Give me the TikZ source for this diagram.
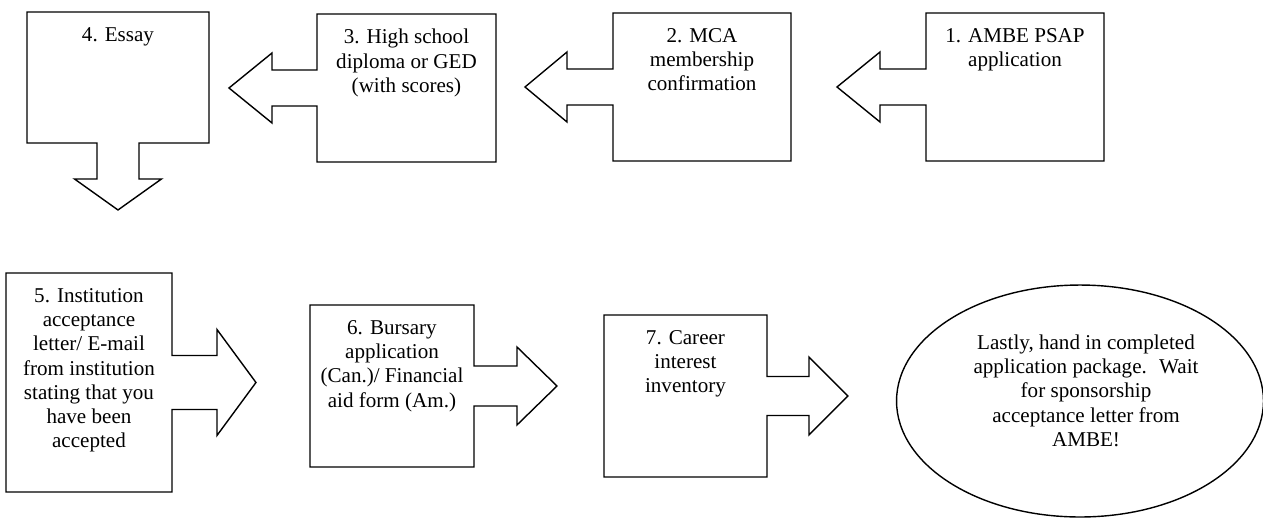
\documentclass[tikz,border=0pt]{standalone}
\usepackage{fontspec}
\setmainfont{Liberation Serif}
\newfontfamily\stepfont{Liberation Serif}
\usetikzlibrary{shapes.geometric,positioning,calc}
\tikzset{
  stepbox/.style={rectangle, inner sep=0pt, outer sep=0pt, anchor=north west},
  steptext/.style={align=center, inner sep=0pt, font=\stepfont\fontsize{12pt}{13.8pt}\selectfont},
  blockline/.style={draw=black, line width=0.8pt, fill=white, line join=miter},
}
% #1 node, #2 shaft half width, #3 shaft length, #4 head half width, #5 head length
\newcommand{\leftblock}[5]{%
  \draw[blockline] (#1.north west) -- (#1.north east) -- (#1.south east) -- (#1.south west)
    -- ($(#1.west)+(0,#2)$) -- ($(#1.west)+(-#3,#2)$) -- ($(#1.west)+(-#3,#4)$)
    -- ($(#1.west)+(-#3-#5,0)$) -- ($(#1.west)+(-#3,-#4)$) -- ($(#1.west)+(-#3,-#2)$)
    -- ($(#1.west)+(0,-#2)$) -- cycle;}
\newcommand{\rightblock}[5]{%
  \draw[blockline] (#1.north west) -- (#1.north east)
    -- ($(#1.east)+(0,-#2)$) -- ($(#1.east)+(#3,-#2)$) -- ($(#1.east)+(#3,-#4)$)
    -- ($(#1.east)+(#3+#5,0)$) -- ($(#1.east)+(#3,#4)$) -- ($(#1.east)+(#3,#2)$)
    -- ($(#1.east)+(0,#2)$) -- (#1.south east) -- (#1.south west) -- cycle;}
\newcommand{\downblock}[5]{%
  \draw[blockline] (#1.north west) -- (#1.north east) -- (#1.south east)
    -- ($(#1.south)+(#2,0)$) -- ($(#1.south)+(#2,#3)$) -- ($(#1.south)+(#4,#3)$)
    -- ($(#1.south)+(0,#3+#5)$) -- ($(#1.south)+(-#4,#3)$) -- ($(#1.south)+(-#2,#3)$)
    -- ($(#1.south)+(-#2,0)$) -- (#1.south west) -- cycle;}

\begin{document}
\begin{tikzpicture}[x=0.02cm, y=-0.02cm]
\useasboundingbox (0,0) rectangle (1263,518);

\node[stepbox, minimum width=3.56cm, minimum height=2.96cm] (app) at (926,13) {};
\node[stepbox, minimum width=3.56cm, minimum height=2.96cm] (mca) at (613,13) {};
\node[stepbox, minimum width=3.58cm, minimum height=2.96cm] (diploma) at (317,14) {};
\node[stepbox, minimum width=3.64cm, minimum height=2.62cm] (essay) at (27,12) {};
\node[stepbox, minimum width=3.32cm, minimum height=4.38cm] (accept) at (6,273) {};
\node[stepbox, minimum width=3.28cm, minimum height=3.24cm] (bursary) at (310,305) {};
\node[stepbox, minimum width=3.26cm, minimum height=3.24cm] (career) at (604,315) {};
\node[ellipse, draw=black, line width=0.8pt, inner sep=0pt,
      minimum width=7.34cm, minimum height=4.64cm] (last) at (1080,401) {};

\leftblock{app}{18}{46}{35}{43}
\leftblock{mca}{18}{46}{35}{42}
\leftblock{diploma}{18}{45}{35}{43}
\downblock{essay}{21}{36}{43.5}{31}
\rightblock{accept}{27}{45}{53}{39}
\rightblock{bursary}{20}{43}{39}{40}
\rightblock{career}{19.5}{42}{39}{39}

\node[steptext, below=0.3cm of app.north] (apptext) {1. AMBE PSAP\\application};
\node[steptext, below=0.3cm of mca.north] (mcatext) {2. MCA\\membership\\confirmation};
\node[steptext, below=0.3cm of diploma.north] (diplomatext) {3. High school\\diploma or GED\\(with scores)};
\node[steptext, below=0.3cm of essay.north] (essaytext) {4. Essay};
\node[steptext, below=0.3cm of accept.north] (accepttext)
  {5. Institution\\acceptance\\letter/ E-mail\\from institution\\stating that you\\have been\\accepted};
\node[steptext, below=0.3cm of bursary.north] (bursarytext)
  {6. Bursary\\application\\(Can.)/ Financial\\aid form (Am.)};
\node[steptext, below=0.3cm of career.north] (careertext) {7. Career\\interest\\inventory};
\node[steptext, below=1cm of last.north, xshift=0.12cm] (lasttext)
  {Lastly, hand in completed\\application package.~ Wait\\for sponsorship\\acceptance letter from\\AMBE!};

\end{tikzpicture}
\end{document}
